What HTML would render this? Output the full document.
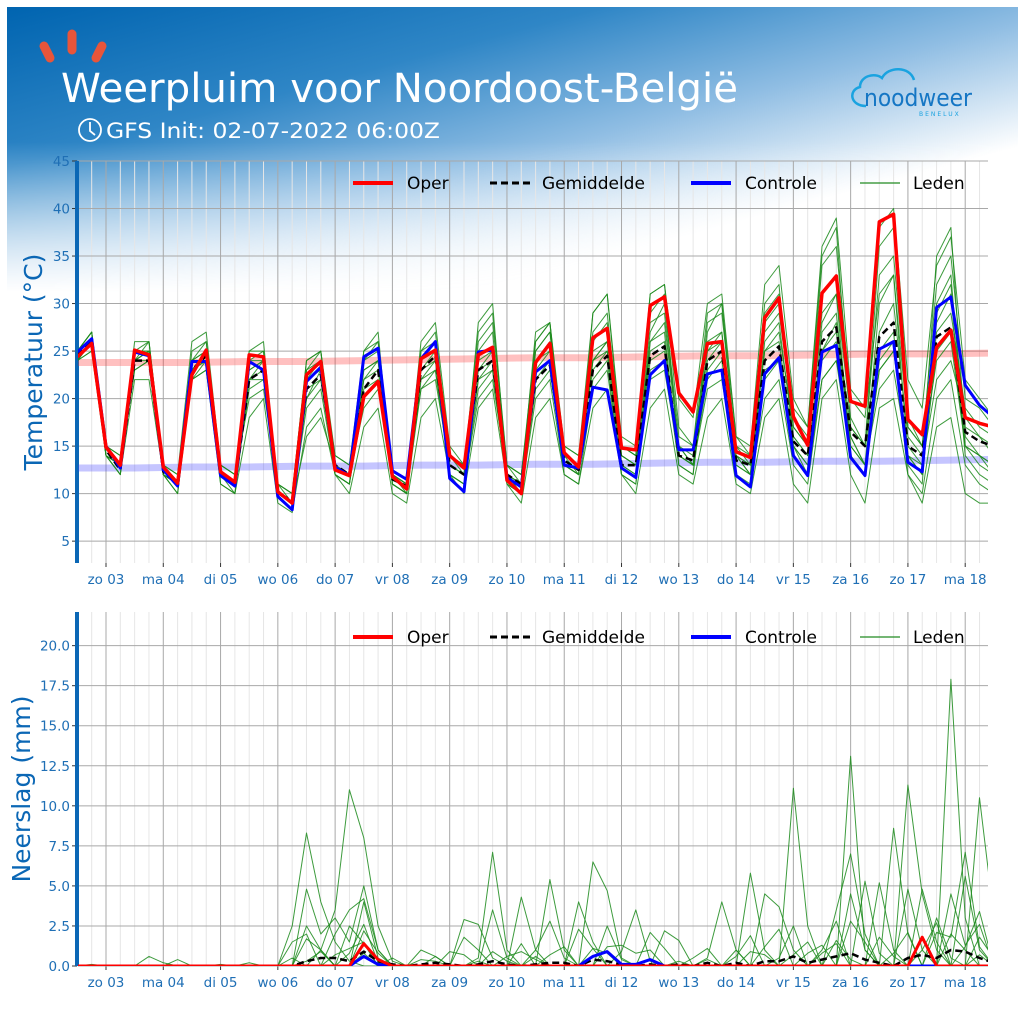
<!DOCTYPE html>
<html><head><meta charset="utf-8"><style>
html,body{margin:0;padding:0;background:#fff;}
#wrap{position:relative;width:1024px;height:1024px;overflow:hidden;background:#fff;font-family:"DejaVu Sans","Liberation Sans",sans-serif;}
#bg{position:absolute;left:7px;top:7px;width:1011px;height:300px;background:linear-gradient(165deg,#0064b0 0%,#2f86c6 28%,#8fbde3 50%,rgba(255,255,255,0) 72%);-webkit-mask-image:linear-gradient(to bottom,#000 45%,transparent 95%);mask-image:linear-gradient(to bottom,#000 45%,transparent 95%);}
svg{position:absolute;left:0;top:0;}
</style></head><body>
<div id="wrap">
<div id="bg"></div>
<svg id="s" width="1024" height="1024">
 <g stroke="#e8553a" stroke-width="9" stroke-linecap="round">
  <line x1="72" y1="34" x2="72" y2="50"/><line x1="44" y1="46" x2="50" y2="58"/><line x1="102" y1="46" x2="96" y2="58"/>
 </g>
 <text x="61" y="102" fill="#fff" font-size="40" textLength="677" lengthAdjust="spacingAndGlyphs" font-family="DejaVu Sans,sans-serif">Weerpluim voor Noordoost-België</text>
 <g fill="none" stroke="#fff" stroke-width="1.8"><circle cx="90" cy="130" r="11"/><path d="M90 122 V131 L95 135"/></g>
 <text x="106" y="138" fill="#fff" font-size="21" textLength="334" lengthAdjust="spacingAndGlyphs" font-family="DejaVu Sans,sans-serif">GFS Init: 02-07-2022 06:00Z</text>
 <g>
  <path d="M866 106 C850 106 848 90 860 87 C860 76 875 72 882 78 C888 66 910 66 914 80" fill="none" stroke="#1aa3e0" stroke-width="2.5"/>
  <text x="864" y="106" fill="#1576c4" font-size="24" textLength="108" lengthAdjust="spacingAndGlyphs" font-family="DejaVu Sans,sans-serif">noodweer</text>
  <text x="919" y="116" fill="#1aa3e0" font-size="6" letter-spacing="2">BENELUX</text>
 </g>
 <g id="top"></g>
 <g id="bot"></g>
</svg>
</div>
<script>
// ---------- DATA ----------
const dayLabels=["zo 03","ma 04","di 05","wo 06","do 07","vr 08","za 09","zo 10","ma 11","di 12","wo 13","do 14","vr 15","za 16","zo 17","ma 18"];
const tempTicks=[5,10,15,20,25,30,35,40,45];
const precTicks=[0,2.5,5,7.5,10,12.5,15,17.5,20];
const tempOper=[24.4,25.8, 14.9,13,25.1,24.6, 12.8,11.1,22.5,25.1, 12.3,11.2,24.6,24.4, 10.2,9,22.5,23.9, 12.5,11.9,20.2,21.8, 11.8,10.5,24.2,25.1, 14,12.7,24.6,25.4, 11.4,10,23.8,25.8, 14.3,12.8,26.4,27.4, 14.8,14.6,29.8,30.7, 20.6,18.6,25.8,26, 14.4,13.8,28.5,30.6, 18.1,15.1,31.1,32.9, 19.7,19.2,38.6,39.4, 17.8,16.2,25.4,27.2, 18,17.4,17];
const tempCtrl=[24.9,26.3, 15,12.7,24.9,24.5, 12.5,10.8,23.9,23.9, 11.9,10.8,23.9,23, 9.7,8.3,21.8,23.3, 12.8,11.9,24.4,25.3, 12.4,11.5,24.2,26, 11.6,10.2,24.9,25.1, 11.7,10.7,22.8,24, 13,12.7,21.2,20.9, 12.7,11.7,22.5,24, 14.6,14.6,22.6,23, 11.9,10.7,22.6,24.3, 14,11.9,24.9,25.6, 13.8,11.9,25.2,26, 13.3,12.3,29.6,30.7, 21.4,19.3,18];
const tempMean=[24.6,26, 14.6,12.5,24,24, 12.3,11,23,24.5, 12,10.8,22,23, 10,9.3,21,22.5, 13,12,21,23, 11.5,10.8,23,24.5, 13,12,23,24, 12,11,22,23.5, 13.5,12.5,23,24.5, 13,13,24.5,25.5, 14,13.5,24,25, 13.5,13,24,25.5, 15.5,14,26,27.5, 16.5,15,26.5,28, 15,14,26.5,27.5, 16.5,15.5,15];
const tempMembers=[
[25,27, 15,13,26,26, 13,12,26,27, 13,12,25,25, 11,10,24,25, 14,13,24,26, 12,11,26,28, 15,13,27,29, 13,11,26,28, 15,14,29,31, 16,15,31,32, 20,18,30,31, 16,15,32,34, 20,17,36,39, 21,19,38,40, 22,19,34,37, 22,20,18],
[24,25, 14,12,22,22, 12,10,22,23, 11,10,18,20, 9,8,17,19, 12,10,17,19, 10,9,18,20, 12,10,19,21, 11,9,18,20, 12,11,19,21, 12,10,19,21, 12,11,18,20, 11,10,18,20, 11,9,20,22, 12,9,19,20, 12,9,17,18, 10,9,9],
[25,27, 15,14,24,25, 13,11,24,25, 12,11,23,24, 10,9,20,23, 13,12,23,24, 11,10,23,25, 13,12,23,25, 12,11,24,26, 14,13,26,28, 14,13,27,30, 16,15,26,27, 13,12,25,27, 17,15,28,31, 18,15,27,30, 16,14,24,26, 15,14,13],
[24,26, 15,13,23,24, 12,11,25,26, 13,12,24,25, 11,9,23,25, 12,11,21,22, 12,11,25,26, 14,12,25,27, 11,10,22,24, 14,12,25,26, 14,13,26,28, 15,13,22,24, 14,12,26,28, 16,14,25,27, 16,13,30,33, 14,12,29,32, 17,16,15],
[25,26, 14,12,24,26, 12,11,22,24, 12,10,22,23, 11,10,23,24, 13,12,22,24, 11,10,22,23, 12,11,20,22, 12,10,21,23, 13,12,22,24, 12,11,23,24, 13,12,27,30, 14,13,23,24, 15,13,25,28, 17,15,33,35, 18,15,27,29, 19,17,16],
[24,26, 15,13,25,26, 13,11,23,25, 12,11,21,22, 10,9,16,18, 13,12,19,21, 12,11,24,26, 13,12,26,28, 13,12,25,27, 15,14,23,25, 13,12,22,23, 14,13,25,26, 15,14,30,32, 15,12,22,24, 14,12,23,25, 15,13,35,38, 16,14,12],
[25,27, 14,13,23,24, 12,11,22,23, 12,11,25,26, 10,9,21,22, 12,11,24,25, 12,10,21,23, 13,12,28,30, 12,11,27,28, 14,13,27,29, 15,14,31,32, 17,15,29,30, 16,14,27,29, 18,16,34,36, 20,18,31,33, 17,15,28,31, 14,12,11],
[24,25, 14,13,25,25, 12,11,24,26, 12,11,23,24, 10,9,22,23, 12,11,22,23, 12,11,21,22, 13,12,22,23, 12,10,23,25, 13,12,24,26, 14,13,24,25, 15,13,21,22, 13,12,22,24, 16,14,24,26, 15,13,21,23, 14,13,22,24, 18,16,14],
[25,26, 15,14,24,25, 13,12,23,24, 13,12,20,21, 11,10,24,25, 13,12,25,27, 11,10,25,27, 14,13,24,25, 13,12,26,28, 13,12,29,31, 15,14,29,31, 14,13,28,29, 15,13,28,30, 17,15,29,31, 14,12,25,27, 13,11,30,33, 15,13,12],
[24,26, 14,13,24,24, 12,11,23,24, 11,10,22,22, 10,9,22,24, 14,13,25,26, 12,11,23,24, 12,11,21,23, 11,10,20,22, 12,11,21,23, 12,11,26,27, 13,12,24,26, 12,11,20,22, 13,11,22,24, 16,13,24,26, 12,10,20,22, 13,11,10],
[25,27, 15,13,24,25, 12,10,23,25, 12,11,22,24, 10,9,19,21, 12,11,20,22, 11,10,24,26, 12,11,22,24, 12,11,25,27, 14,13,24,26, 15,14,28,29, 15,14,25,27, 14,12,29,31, 19,17,35,38, 17,15,36,38, 17,15,32,35, 20,19,17],
[24,26, 14,12,25,25, 12,11,24,25, 12,11,24,24, 10,9,20,22, 13,12,23,24, 12,11,22,24, 14,13,23,24, 13,12,24,25, 13,12,24,25, 13,12,25,26, 14,13,23,25, 14,13,25,26, 15,13,27,29, 15,13,23,25, 14,12,25,27, 15,14,13]
];
const normHi=[23.8,23.8,23.8,23.9,23.9,24.0,24.1,24.2,24.3,24.3,24.4,24.5,24.5,24.6,24.7,24.7,24.8];
const normLo=[12.7,12.7,12.8,12.8,12.9,12.9,13.0,13.0,13.1,13.1,13.2,13.3,13.3,13.4,13.4,13.5,13.6];
// precipitation: sparse [stepIndex(6h from zo 03 00Z), mm]
const precOper=[[17,0],[18,1.4],[19,0.4],[20,0],[56,0],[57,1.8],[58,0]];
const precCtrl=[[17,0],[18,0.6],[19,0.1],[33,0],[34,0.6],[35,0.9],[36,0.1],[37,0.1],[38,0.4],[39,0]];
const precMean=[[13,0],[14,0.3],[15,0.5],[16,0.5],[17,0.3],[18,0.9],[19,0.3],[20,0.1],[22,0.1],[23,0.2],[24,0.1],[26,0.1],[27,0.3],[28,0.1],[30,0.1],[31,0.2],[32,0.2],[34,0.4],[35,0.3],[36,0.1],[38,0.1],[40,0.1],[42,0.2],[44,0.2],[46,0.3],[47,0.3],[48,0.6],[49,0.2],[50,0.4],[51,0.6],[52,0.8],[53,0.4],[54,0.2],[56,0.5],[57,0.7],[58,0.5],[59,1.0],[60,0.9],[61,0.5],[62,0.2]];
const precMembers=[
[[13,2.5],[14,8.3],[15,4],[16,1.5],[17,0.3],[26,0.5],[27,7.1],[28,1],[52,13.1],[53,1],[59,2],[60,1]],
[[15,1],[16,3.5],[17,11],[18,8],[19,2.5],[20,0.3],[31,5.4],[32,1],[48,11.1],[49,2.5],[56,11.3],[57,4.5],[58,1]],
[[14,4.8],[15,2],[16,3],[17,1.5],[18,5],[19,1],[29,4.3],[30,1],[34,6.5],[35,4.7],[36,0.5],[45,5.8],[46,1],[55,8.6],[56,2],[59,17.9],[60,3]],
[[14,2.5],[15,1],[18,4],[19,0.5],[25,2.9],[26,2.6],[27,0.5],[33,4],[34,1.5],[44,1],[46,4.5],[47,3.7],[48,1],[52,4.5],[53,1],[61,10.5],[62,3.1]],
[[13,1.5],[14,2],[16,2],[17,3.5],[18,4.2],[19,1],[23,0.6],[27,3.5],[28,0.5],[30,1],[31,2.8],[32,0.5],[39,2.2],[40,1.6],[42,0.5],[43,4],[44,1],[51,3.5],[52,7],[53,2],[57,4.8],[58,1.5],[60,5.6],[61,1]],
[[-1,0.1],[3,0.6],[4,0.2],[10,0.2],[17,2.5],[18,1.4],[22,1],[23,0.6],[25,1.8],[26,1],[35,1.2],[36,1.3],[37,0.8],[38,1],[47,0.5],[48,2.5],[50,1],[51,2.8],[54,5.2],[55,1],[58,2.1],[59,1.8],[60,7.1],[61,1.2]],
[[5,0.4],[8,0.1],[14,1.7],[15,1],[18,2.2],[19,0.8],[24,0.9],[25,0.7],[29,1.4],[33,2.3],[34,1.1],[38,2.1],[39,1.1],[44,0.6],[45,1.9],[49,0.8],[50,1.3],[53,5.3],[54,0.8],[56,4.8],[57,1],[60,1.2],[61,3.4]],
[[16,0.7],[17,1.1],[18,1.5],[20,0.5],[27,0.9],[28,0.3],[31,0.7],[32,1.2],[36,0.9],[37,3.5],[38,0.3],[42,0.4],[46,1.2],[47,2.3],[52,2.8],[53,1.5],[55,0.8],[56,2.1],[59,4.5],[60,1.3],[61,2.6]],
[[14,0.3],[15,0.9],[18,0.8],[22,0.4],[23,0.3],[28,0.6],[29,0.9],[30,0.4],[35,2.5],[36,0.4],[41,0.5],[42,1.1],[48,0.7],[49,1.5],[51,1.6],[52,0.4],[57,1],[58,2.7],[61,1.8],[62,0.5]],
[[13,0.5],[17,0.8],[18,2.6],[19,0.2],[26,0.3],[30,0.6],[34,1.1],[35,0.8],[40,0.3],[45,0.9],[46,0.7],[50,0.8],[51,1.4],[54,1.8],[55,0.6],[58,3],[59,0.5],[61,0.7]]
];
// ---------- DRAWING ----------
const NS="http://www.w3.org/2000/svg";
const X0=106, STEP=14.32, XL=78, XR=988;
function xs(step){return X0+step*STEP;}
function mk(tag,attrs,parent){const e=document.createElementNS(NS,tag);for(const k in attrs)e.setAttribute(k,attrs[k]);parent.appendChild(e);return e;}
function expand(sp){const a=[];for(let s=-2;s<=62;s++)a.push(0);sp.forEach(p=>{if(p[0]>=-2&&p[0]<=62)a[p[0]+2]=p[1];});return a;}
function seriesPath(vals,ys,startStep){return vals.map((v,i)=>(i?'L':'M')+xs(startStep+i).toFixed(1)+' '+ys(v).toFixed(1)).join(' ');}

function chart(g,top,bottom,ymin,ymax,ticks,fmt,ylabel,clipId,legendY){
  const ys=v=>bottom-(v-ymin)/(ymax-ymin)*(bottom-top);
  const defs=mk('defs',{},g);const cp=mk('clipPath',{id:clipId},defs);mk('rect',{x:XL,y:top,width:XR-XL,height:bottom-top},cp);
  for(let s=-2;s<=62;s++){if(s%4===0)continue;const x=xs(s);if(x<XL||x>XR)continue;
    const l=mk('line',{x1:x,x2:x,y1:top,y2:bottom,stroke:'#e6e6e6','stroke-width':1},g);
    
    }
  dayLabels.forEach((d,i)=>{const x=xs(i*4);
    const l=mk('line',{x1:x,x2:x,y1:top,y2:bottom,stroke:'#a8a8a8','stroke-width':1},g);
    
    
    mk('line',{x1:x,x2:x,y1:bottom,y2:bottom+4,stroke:'#333'},g);
    const t=mk('text',{x:x,y:bottom+21,'text-anchor':'middle','font-size':13.5,fill:'#1f6fb5'},g);t.textContent=d;
    
    });
  ticks.forEach(v=>{const y=ys(v);
    const l=mk('line',{x1:XL,x2:XR,y1:y,y2:y,stroke:'#a8a8a8','stroke-width':1},g);
    
    
    mk('line',{x1:72,x2:77,y1:y,y2:y,stroke:'#333'},g);
    const t=mk('text',{x:70,y:y+5,'text-anchor':'end','font-size':13.5,fill:'#1f6fb5'},g);t.textContent=fmt(v);
    
    });
  const sp=mk('rect',{x:75,y:top,width:4,height:bottom-top,fill:'#0b67b5'},g);
  
  
  const cy=(top+bottom)/2;
  const yl=mk('text',{x:0,y:0,transform:`translate(${clipId==='ct'?42:30},${cy}) rotate(-90)`,'text-anchor':'middle','font-size':25,fill:'#0b67b5'},g);yl.textContent=ylabel;
  
  
  const plot=mk('g',{'clip-path':`url(#${clipId})`},g);
  return {ys,plot};
}
function legend(g,y){
  const items=[[353,'#ff0000',4,null,'Oper',407],[490,'#000',3,'7,4','Gemiddelde',542],[691,'#0000ff',4,null,'Controle',745],[860,'#228b22',1.2,null,'Leden',913]];
  const lg=mk('g',{},g);
  items.forEach(it=>{const e=mk('g',{},lg);
    
    
    const a={x1:it[0],x2:it[0]+40,y1:y,y2:y,stroke:it[1],'stroke-width':it[2]};if(it[3])a['stroke-dasharray']=it[3];mk('line',a,e);
    const t=mk('text',{x:it[5],y:y+6,'font-size':17,fill:'#000'},e);t.textContent=it[4];});
}
function line(plot,vals,ys,start,stroke,w,dash,op,name){
  const a={d:seriesPath(vals,ys,start),fill:'none',stroke:stroke,'stroke-width':w,'stroke-linejoin':'round'};
  if(dash)a['stroke-dasharray']=dash;if(op)a['stroke-opacity']=op;
  const p=mk('path',a,plot);
  
  
}
const T=chart(document.getElementById('top'),161,563,2.7,45,tempTicks,v=>String(v),'Temperatuur (°C)','ct',183);
const normPath=arr=>arr.map((v,k)=>(k?'L':'M')+xs(4*k-2).toFixed(1)+' '+T.ys(v).toFixed(1)).join(' ');
[[normHi,'#ff3030','normal-max-line'],[normLo,'#4040ff','normal-min-line']].forEach(n=>{
  const p=mk('path',{d:normPath(n[0]),fill:'none',stroke:n[1],'stroke-width':7,'stroke-opacity':0.3},T.plot);
  
  });
tempMembers.forEach(m=>line(T.plot,m,T.ys,-2,'#1b8a1b',1,null,0.85,'member-line'));
line(T.plot,tempMean,T.ys,-2,'#000',2.5,'7,4',null,'mean-line');
line(T.plot,tempCtrl,T.ys,-2,'#0000ff',3,null,null,'control-line');
line(T.plot,tempOper,T.ys,-2,'#ff0000',3.5,null,null,'oper-line');
legend(document.getElementById('top'),183);
const P=chart(document.getElementById('bot'),612,966,0,22.1,precTicks,v=>v.toFixed(1),'Neerslag (mm)','cp',637);
precMembers.forEach(m=>line(P.plot,expand(m),P.ys,-2,'#1b8a1b',1,null,0.85,'member-precip-line'));
line(P.plot,expand(precMean),P.ys,-2,'#000',2.5,'7,4',null,'mean-precip-line');
line(P.plot,expand(precCtrl),P.ys,-2,'#0000ff',3,null,null,'control-precip-line');
line(P.plot,expand(precOper),P.ys,-2,'#ff0000',3,null,null,'oper-precip-line');
legend(document.getElementById('bot'),637);
</script>
</body></html>
